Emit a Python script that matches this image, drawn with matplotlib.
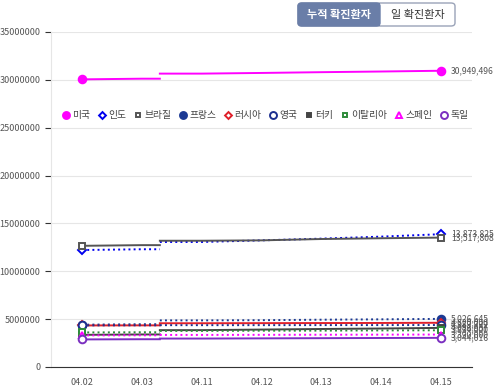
import matplotlib
matplotlib.use("Agg")
import matplotlib.pyplot as plt
from matplotlib.patches import FancyBboxPatch, Rectangle
import numpy as np

plt.rcParams["font.family"] = ["Noto Sans CJK KR", "DejaVu Sans"]

dates = ["04.02", "04.03", "04.11", "04.12", "04.13", "04.14", "04.15"]
countries = ["미국", "인도", "브라질", "프랑스", "러시아", "영국", "터키", "이탈리아", "스페인", "독일"]

us = [30050000, 30120000, 30650000, 30720000, 30800000, 30870000, 30949496]
india = [12220000, 12300000, 13060000, 13230000, 13410000, 13620000, 13873825]
brazil = [12660000, 12730000, 13190000, 13230000, 13370000, 13450000, 13517808]
france = [4420000, 4470000, 4870000, 4890000, 4940000, 4980000, 5026645]
russia = [4340000, 4350000, 4570000, 4580000, 4590000, 4600000, 4620000]
uk = [4350000, 4355000, 4370000, 4372000, 4375000, 4378000, 4383732]
turkey = [3360000, 3400000, 3850000, 3910000, 3970000, 4020000, 4086957]
italy = [3610000, 3630000, 3770000, 3790000, 3800000, 3820000, 3834000]
spain = [3300000, 3310000, 3350000, 3360000, 3370000, 3380000, 3390000]
germany = [2880000, 2900000, 2970000, 2990000, 3010000, 3030000, 3044016]
series = [us, india, brazil, france, russia, uk, turkey, italy, spain, germany]

# style per country: (line color, linestyle, marker, filled)
styles = [
    ("#ff00ff", "-", "o", True),
    ("#0000ee", ":", "D", False),
    ("#555555", "-", "s", False),
    ("#1c3a94", ":", "o", True),
    ("#e0202a", "-", "D", False),
    ("#1c2f8f", ":", "o", False),
    ("#444444", "-", "s", True),
    ("#2e8b3a", ":", "s", False),
    ("#ff00ff", ":", "^", False),
    ("#7b2fc0", "-", "o", False),
]
msizes = {"o": 5.5, "D": 4, "s": 4, "^": 5}

fig = plt.figure(figsize=(5, 3.9), dpi=100)
ax = fig.add_axes([0.102, 0.059, 0.842, 0.859])

x = np.arange(len(dates))
brk = 1.3  # where the line jumps between 04.03 and 04.11
for vals, (c, ls, m, filled), name in zip(series, styles, countries):
    lw = 1.4
    ax.plot([0, 1, brk], [vals[0], vals[1], vals[1]], color=c, ls=ls, lw=lw, zorder=2)
    ax.plot([brk] + list(x[2:]), [vals[2]] + vals[2:], color=c, ls=ls, lw=lw, zorder=2)
    fc = c if filled else "white"
    ax.plot([x[0], x[-1]], [vals[0], vals[-1]], ls="none", marker=m, ms=msizes[m],
            mfc=fc, mec=c, mew=1.4, zorder=3)
    ax.plot([], [], ls="none", marker=m, ms=msizes[m] - 0.5, mfc=fc, mec=c, mew=1.4, label=name)
    ax.text(x[-1] + 0.17, vals[-1], f"{vals[-1]:,}", fontsize=6.2, color="#555555",
            va="center", ha="left")

ax.set_xlim(-0.52, 6.52)
ax.set_ylim(0, 35000000)
ax.set_yticks(np.arange(0, 35000001, 5000000))
ax.set_yticklabels([str(v) for v in range(0, 35000001, 5000000)])
ax.set_xticks(x)
ax.set_xticklabels(dates)
ax.tick_params(axis="both", labelsize=6.5, colors="#555555", length=4)
ax.tick_params(axis="x", length=0, pad=8)
ax.tick_params(axis="y", color="#333333")
ax.grid(axis="y", color="#e6e6e6", lw=0.8)
ax.set_axisbelow(True)
for s in ["top", "right"]:
    ax.spines[s].set_visible(False)
ax.spines["left"].set_color("#e6e6e6")
ax.spines["bottom"].set_color("#333333")

leg = ax.legend(loc="center", bbox_to_anchor=(0.51, 0.752), ncol=10, frameon=False,
                fontsize=7, handlelength=0.6, handletextpad=0.3, columnspacing=0.95,
                borderaxespad=0)
for t in leg.get_texts():
    t.set_color("#444444")

# toggle buttons (figure fraction coords)
bx0, bx1, bx2 = 298 / 500, 380 / 500, 455 / 500
by0, by1 = 1 - 26 / 390, 1 - 3 / 390
fig.patches.append(FancyBboxPatch((bx0, by0), bx2 - bx0, by1 - by0,
                                  boxstyle="round,pad=0,rounding_size=0.008",
                                  transform=fig.transFigure, fc="white", ec="#9aa3b8", lw=1))
fig.patches.append(FancyBboxPatch((bx0, by0), bx1 - bx0, by1 - by0,
                                  boxstyle="round,pad=0,rounding_size=0.008",
                                  transform=fig.transFigure, fc="#6a7ea8", ec="#6a7ea8", lw=1))
fig.patches.append(Rectangle((bx1 - 0.02, by0), 0.02, by1 - by0,
                             transform=fig.transFigure, fc="#6a7ea8", ec="none"))
fig.text((bx0 + bx1) / 2, (by0 + by1) / 2, "누적 확진환자", fontsize=8, color="white",
         ha="center", va="center", fontweight="bold")
fig.text((bx1 + bx2) / 2, (by0 + by1) / 2, "일 확진환자", fontsize=8, color="#333333",
         ha="center", va="center")

fig.savefig("out.png", dpi=100)
